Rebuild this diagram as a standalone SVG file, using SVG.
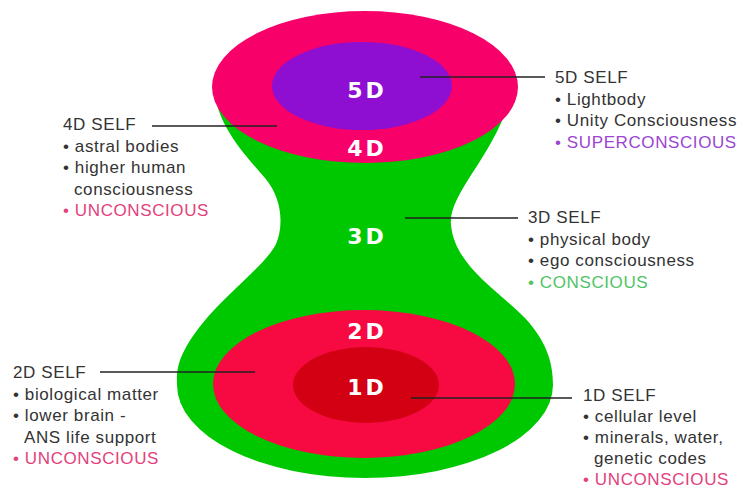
<svg xmlns="http://www.w3.org/2000/svg" width="741" height="489" viewBox="0 0 741 489">
<style>
.t{font-family:"Liberation Sans",Arial,sans-serif;font-size:17px;letter-spacing:0.6px;fill:#333}
.u{fill:#e2417c}
.s{fill:#9b45d2}
.c{fill:#4fc466}
.lbl{font-family:"DejaVu Sans",sans-serif;font-weight:bold;font-size:22px;letter-spacing:3px;fill:#fff;text-anchor:middle}
.ln{stroke:#222;stroke-width:1.6;fill:none}
</style>
<rect width="741" height="489" fill="#fff"/>
<g id="body3D">
<path d="M216 100 C222 130 245 155 265 178 C282 198 284 225 276 244 C262 272 200 310 180 360 C176 372 177 380 177 385 A188 93 0 0 0 553 385 C553 360 545 340 525 318 C495 288 455 265 451 225 C448 195 490 160 508 105 Z" fill="#00c800"/>
</g>
<g id="ring4D"><ellipse cx="365" cy="87" rx="153" ry="76" fill="#f8006a"/></g>
<g id="core5D"><ellipse cx="362" cy="86" rx="90" ry="44" fill="#8e0fd2"/></g>
<g id="ring2D"><ellipse cx="364" cy="384" rx="151" ry="74" fill="#f70a42"/></g>
<g id="core1D"><ellipse cx="366" cy="385" rx="73" ry="38" fill="#d20012"/></g>
<g id="labels">
<text class="lbl" x="367" y="98">5D</text>
<text class="lbl" x="367" y="156">4D</text>
<text class="lbl" x="367" y="244">3D</text>
<text class="lbl" x="367" y="339">2D</text>
<text class="lbl" x="367" y="395">1D</text>
</g>
<g id="connectors">
<line class="ln" x1="420" y1="77" x2="545" y2="77"/>
<line class="ln" x1="152" y1="126" x2="277" y2="126"/>
<line class="ln" x1="405" y1="218" x2="518" y2="218"/>
<line class="ln" x1="100" y1="372" x2="255" y2="372"/>
<line class="ln" x1="411" y1="398" x2="572" y2="398"/>
</g>
<g id="self5D">
<text class="t" x="555" y="83">5D SELF</text>
<text class="t" x="555" y="104.5">• Lightbody</text>
<text class="t" x="555" y="126">• Unity Consciousness</text>
<text class="t s" x="555" y="147.5">• SUPERCONSCIOUS</text>
</g>
<g id="self4D">
<text class="t" x="63" y="130">4D SELF</text>
<text class="t" x="63" y="151.5">• astral bodies</text>
<text class="t" x="63" y="173">• higher human</text>
<text class="t" x="74" y="194.5">consciousness</text>
<text class="t u" x="63" y="216">• UNCONSCIOUS</text>
</g>
<g id="self3D">
<text class="t" x="528" y="223">3D SELF</text>
<text class="t" x="528" y="244.5">• physical body</text>
<text class="t" x="528" y="266">• ego consciousness</text>
<text class="t c" x="528" y="287.5">• CONSCIOUS</text>
</g>
<g id="self2D">
<text class="t" x="13" y="378">2D SELF</text>
<text class="t" x="13" y="399.5">• biological matter</text>
<text class="t" x="13" y="421">• lower brain -</text>
<text class="t" x="24" y="442.5">ANS life support</text>
<text class="t u" x="13" y="464">• UNCONSCIOUS</text>
</g>
<g id="self1D">
<text class="t" x="583" y="401">1D SELF</text>
<text class="t" x="583" y="422">• cellular level</text>
<text class="t" x="583" y="443">• minerals, water,</text>
<text class="t" x="594" y="464">genetic codes</text>
<text class="t u" x="583" y="485">• UNCONSCIOUS</text>
</g>
</svg>
